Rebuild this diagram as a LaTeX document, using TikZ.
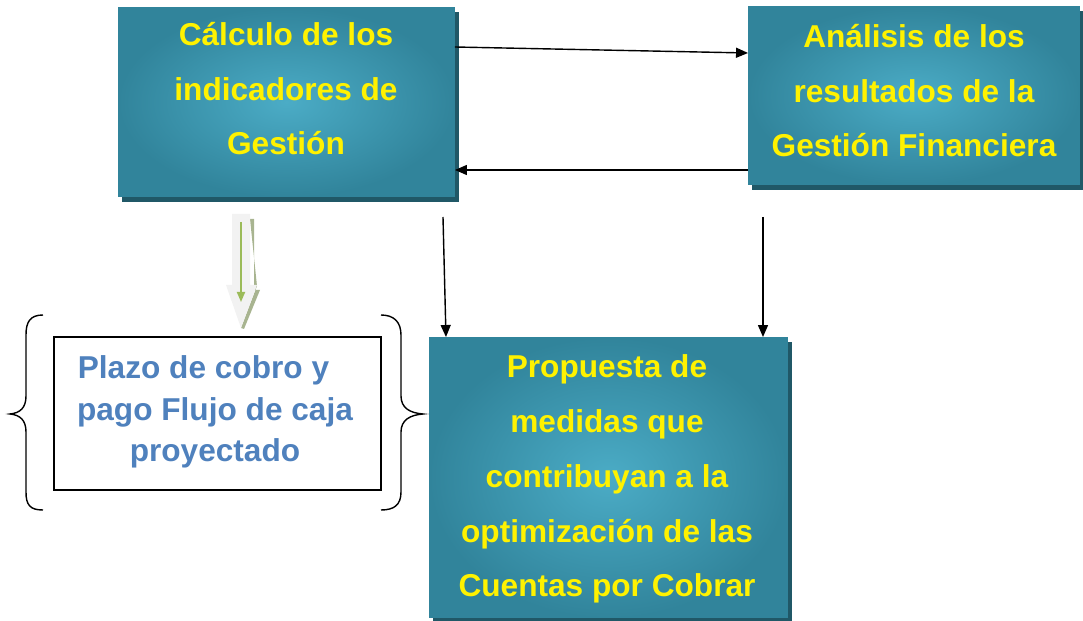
\documentclass[tikz,border=0pt]{standalone}
\usepackage{fontspec}
\setmainfont{Liberation Sans}
\usetikzlibrary{arrows.meta,shadows}
\definecolor{tealin}{HTML}{4BACC6}
\definecolor{tealout}{HTML}{31849B}
\definecolor{tealdark}{HTML}{205867}
\definecolor{plazoblue}{HTML}{4F81BD}
\definecolor{arrowgreen}{HTML}{9BBB59}
\definecolor{hatchgreen}{HTML}{A8B490}
\tikzset{
  tealbox/.style={rectangle, inner sep=0pt, outer sep=0pt,
    shading=radial, inner color=tealin, outer color=tealout,
    drop shadow={shadow xshift=0.08cm, shadow yshift=-0.1cm, fill=tealdark, opacity=1}},
  ytext/.style={anchor=base, align=center, text=yellow,
    font=\fontsize{18}{31.3}\selectfont\bfseries},
  btext/.style={anchor=base, align=center, text=plazoblue,
    font=\fontsize{18}{23.8}\selectfont\bfseries},
  link/.style={line width=0.8pt, -{Triangle[length=0.24cm,width=0.2cm]}},
  brace/.style={line width=0.8pt}
}
\begin{document}
\begin{tikzpicture}[x=0.02cm,y=-0.02cm]
  \useasboundingbox (0,0) rectangle (1083,621);
  % boxes
  \node[tealbox, minimum width=6.74cm, minimum height=3.8cm] (calc) at (286.5,102) {};
  \node[tealbox, minimum width=6.64cm, minimum height=3.58cm] (anal) at (914,95.5) {};
  \node[tealbox, minimum width=7.18cm, minimum height=5.62cm] (prop) at (608.5,477.5) {};
  \node[draw, line width=1.1pt, inner sep=0pt, outer sep=0pt,
    minimum width=6.54cm, minimum height=3.06cm] (plazo) at (217.5,413.5) {};
  % texts (base = last line)
  \node[ytext] (calctxt) at (286,155) {Cálculo de los\\indicadores de\\Gestión};
  \node[ytext] (analtxt) at (914,157) {Análisis de los\\resultados de la\\Gestión Financiera};
  \node[ytext] (proptxt) at (607,597) {Propuesta de\\medidas que\\contribuyan a la\\optimización de las\\Cuentas por Cobrar};
  \node[btext] (plazotxt) at (215,462) {Plazo de cobro y\hspace*{0.46cm}\\pago Flujo de caja\\proyectado};
  % arrows
  \draw[link] (calc.east |- 0,47) -- (anal.west |- 0,53);
  \draw[link] (anal.west |- 0,170) -- (calc.east |- 0,170);
  \coordinate (d1) at (443,217);
  \coordinate (d2) at (763,217);
  \draw[link] (d1) -- (prop.north -| 446,0);
  \draw[link] (d2) -- (prop.north -| 763,0);
  % hollow arrow
  \fill[hatchgreen] (250,219) -- (254,219) -- (254,290) -- (260,290) -- (244,329) -- (241,328) -- (257,286) -- cycle;
  \fill[gray!10] (232,214) -- (250,214) -- (250,285) -- (257,285) -- (241,328) -- (226,285) -- (232,285) -- cycle;
  \draw[arrowgreen, line width=1pt, -{Triangle[length=0.2cm,width=0.16cm]}] (241,222) -- (241,302);
  % braces
  \draw[brace] (43,315) .. controls (30,315) and (26,322) .. (26,335) -- (26,396)
    .. controls (26,408) and (20,413) .. (10,414) .. controls (20,415) and (26,420) .. (26,432)
    -- (26,492) .. controls (26,505) and (30,510) .. (43,510);
  \draw[brace] (381,315) .. controls (394,315) and (401,322) .. (401,335) -- (401,396)
    .. controls (401,408) and (410,413) .. (423,414) .. controls (410,415) and (401,420) .. (401,432)
    -- (401,492) .. controls (401,505) and (394,510) .. (381,510);
\end{tikzpicture}
\end{document}
